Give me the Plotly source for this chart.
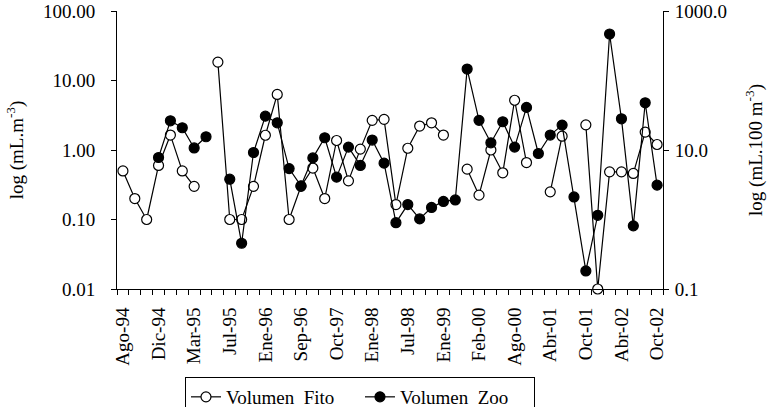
import plotly.graph_objects as go

# --- data ---
etiquetas = ["Ago-94", "Dic-94", "Mar-95", "Jul-95", "Ene-96", "Sep-96", "Oct-97", "Ene-98",
             "Jul-98", "Ene-99", "Feb-00", "Ago-00", "Abr-01", "Oct-01", "Abr-02", "Oct-02"]
n_muestras = 46
muestras = list(range(n_muestras))
pos_etiquetas = list(range(0, n_muestras, 3))

volumen_fito = [0.5, 0.2, 0.1, 0.6, 1.64, 0.5, 0.3, None, 18.4, 0.1,
                0.1, 0.3, 1.63, 6.3, 0.1, 0.3, 0.55, 0.2, 1.37, 0.36,
                1.03, 2.67, 2.76, 0.164, 1.06, 2.21, 2.46, 1.64, None, 0.53,
                0.224, 1.0, 0.47, 5.2, 0.66, None, 0.25, 1.58, None, 2.3,
                0.01, 0.485, 0.485, 0.46, 1.81, 1.2]

volumen_zoo = [None, None, None, 7.8, 26.3, 20.9, 10.7, 15.5, None, 3.8,
               0.455, 9.2, 30.7, 24.6, 5.4, 3.05, 7.7, 15.0, 4.07, 11.0,
               6.0, 13.9, 6.47, 0.9, 1.64, 1.02, 1.49, 1.82, 1.91, 146,
               26.7, 12.7, 25.5, 11.0, 41, 8.9, 16.4, 22.8, 2.11, 0.182,
               1.15, 467, 28.1, 0.81, 47.8, 3.12]

ticks_izq = [0.01, 0.1, 1, 10, 100]
ticks_izq_txt = ["0.01", "0.10", "1.00", "10.00", "100.00"]
ticks_der = [0.1, 10, 1000]
ticks_der_txt = ["0.1", "10.0", "1000.0"]

FONT = "Liberation Serif"
fs = 19
limites = [i - 0.5 for i in range(n_muestras + 1)]
xr = [-0.5, n_muestras - 0.5]

fig = go.Figure()
fig.add_trace(go.Scatter(
    x=muestras, y=volumen_fito, name="Volumen\u00a0\u00a0Fito", mode="lines+markers",
    line=dict(color="black", width=1.2),
    marker=dict(symbol="circle", size=10, color="white", line=dict(color="black", width=1.2)),
    cliponaxis=False, yaxis="y"))
fig.add_trace(go.Scatter(
    x=muestras, y=volumen_zoo, name="Volumen\u00a0\u00a0Zoo", mode="lines+markers",
    line=dict(color="black", width=1.2),
    marker=dict(symbol="circle", size=10, color="black", line=dict(color="black", width=1.2)),
    cliponaxis=False, yaxis="y2"))

fig.update_layout(
    template="none",
    width=767, height=407,
    margin=dict(l=117, r=104, t=11, b=118, autoexpand=False),
    paper_bgcolor="white", plot_bgcolor="white",
    font=dict(family=FONT, size=fs, color="black"),
    showlegend=True,
    legend=dict(orientation="h", x=0.1245, y=-0.3165, xanchor="left", yanchor="top",
                bordercolor="black", borderwidth=1, font=dict(family=FONT, size=fs),
                itemwidth=30, tracegroupgap=0, bgcolor="white",
                entrywidth=129, entrywidthmode="pixels"),
    xaxis=dict(range=xr, tickmode="array", tickvals=pos_etiquetas, ticktext=etiquetas,
               tickangle=-90, ticks="", showline=True, linecolor="black", linewidth=1,
               showgrid=False, zeroline=False, ticklabelstandoff=10, automargin=False,
               ticklabeloverflow="allow",
               minor=dict(tickmode="array", tickvals=limites, ticks="outside",
                          ticklen=5, tickcolor="black", tickwidth=1, showgrid=False)),
    xaxis2=dict(range=xr, overlaying="x", anchor="y", showline=False, showgrid=False,
                zeroline=False, showticklabels=False, tickmode="array", tickvals=[],
                automargin=False,
                minor=dict(tickmode="array", tickvals=limites, ticks="inside",
                           ticklen=5, tickcolor="black", tickwidth=1, showgrid=False)),
    yaxis=dict(type="log", range=[-2, 2], tickmode="array", tickvals=ticks_izq,
               ticktext=ticks_izq_txt, ticks="outside", ticklen=5, tickcolor="black",
               ticklabelstandoff=12, automargin=False, ticklabeloverflow="allow",
               showline=True, linecolor="black", linewidth=1, showgrid=False, zeroline=False,
               title=dict(text="log (mL.m<sup>-3</sup>)", standoff=14, font=dict(size=fs))),
    yaxis3=dict(type="log", range=[-2, 2], overlaying="y", side="left", anchor="x",
                tickmode="array", tickvals=ticks_izq, showticklabels=False, automargin=False,
                ticks="inside", ticklen=5, tickcolor="black", showline=False,
                showgrid=False, zeroline=False),
    yaxis2=dict(type="log", range=[-1, 3], overlaying="y", side="right", anchor="x",
                tickmode="array", tickvals=ticks_der, ticktext=ticks_der_txt,
                ticks="outside", ticklen=5, tickcolor="black", ticklabelstandoff=2,
                automargin=False, ticklabeloverflow="allow",
                showline=True, linecolor="black", linewidth=1, showgrid=False, zeroline=False,
                title=dict(text="log (mL.100 m<sup>-3</sup>)", standoff=28, font=dict(size=fs))),
    yaxis4=dict(type="log", range=[-1, 3], overlaying="y", side="right", anchor="x",
                tickmode="array", tickvals=ticks_der, showticklabels=False, automargin=False,
                ticks="inside", ticklen=5, tickcolor="black", showline=False,
                showgrid=False, zeroline=False),
)

# remove the browser's default 8px body margin so the figure fills the window exactly
fig.write_html("out.html", config={"displayModeBar": False},
               post_script="document.body.style.margin='0px';")
